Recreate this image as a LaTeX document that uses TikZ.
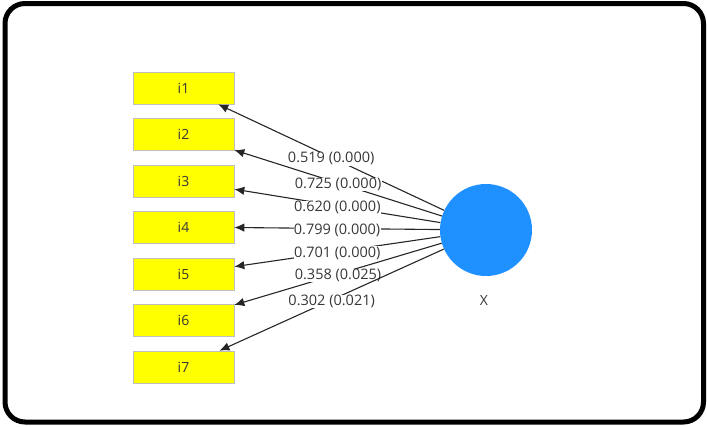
\documentclass[tikz,border=0pt]{standalone}
\usepackage{fontspec}
\setmainfont{Open Sans}
\usetikzlibrary{arrows.meta}
\definecolor{boxyellow}{RGB}{255,255,0}
\definecolor{circblue}{RGB}{30,144,255}
\definecolor{txt}{RGB}{55,55,55}
\begin{document}
\begin{tikzpicture}[x=1pt,y=-1pt,
  item/.style={draw=black!25,line width=0.6pt,fill=boxyellow,minimum width=101pt,minimum height=32pt,inner sep=0pt,font=\fontsize{14}{16}\selectfont,text=txt},
  lv/.style={circle,fill=circblue,draw=none,minimum size=92pt,inner sep=0pt},
  load/.style={draw=black!85,line width=1.1pt,-{Latex[length=10pt,width=8.5pt]}},
  lbl/.style={fill=white,inner sep=0.3pt,yshift=-1.5pt,font=\fontsize{14.5}{16}\selectfont,text=txt}]
\useasboundingbox (0,0) rectangle (707,426);
\draw[line width=5pt,rounded corners=20pt] (5,3.5) rectangle (703.5,422);
\node[item] (i1) at (183.5,88) {i1};
\node[item] (i2) at (183.5,134) {i2};
\node[item] (i3) at (183.5,181) {i3};
\node[item] (i4) at (183.5,227) {i4};
\node[item] (i5) at (183.5,274) {i5};
\node[item] (i6) at (183.5,320) {i6};
\node[item] (i7) at (183.5,367) {i7};
\node[lv] (X) at (486,230) {};
\node[font=\fontsize{14}{16}\selectfont,text=txt] (xl) at (484,300) {X};
\draw[load] (X) -- node[lbl] {0.519 (0.000)} (i1);
\draw[load] (X) -- node[lbl] {0.725 (0.000)} (i2);
\draw[load] (X) -- node[lbl] {0.620 (0.000)} (i3);
\draw[load] (X) -- node[lbl] {0.799 (0.000)} (i4);
\draw[load] (X) -- node[lbl] {0.701 (0.000)} (i5);
\draw[load] (X) -- node[lbl] {0.358 (0.025)} (i6);
\draw[load] (X) -- node[lbl] {0.302 (0.021)} (i7);
\end{tikzpicture}
\end{document}
